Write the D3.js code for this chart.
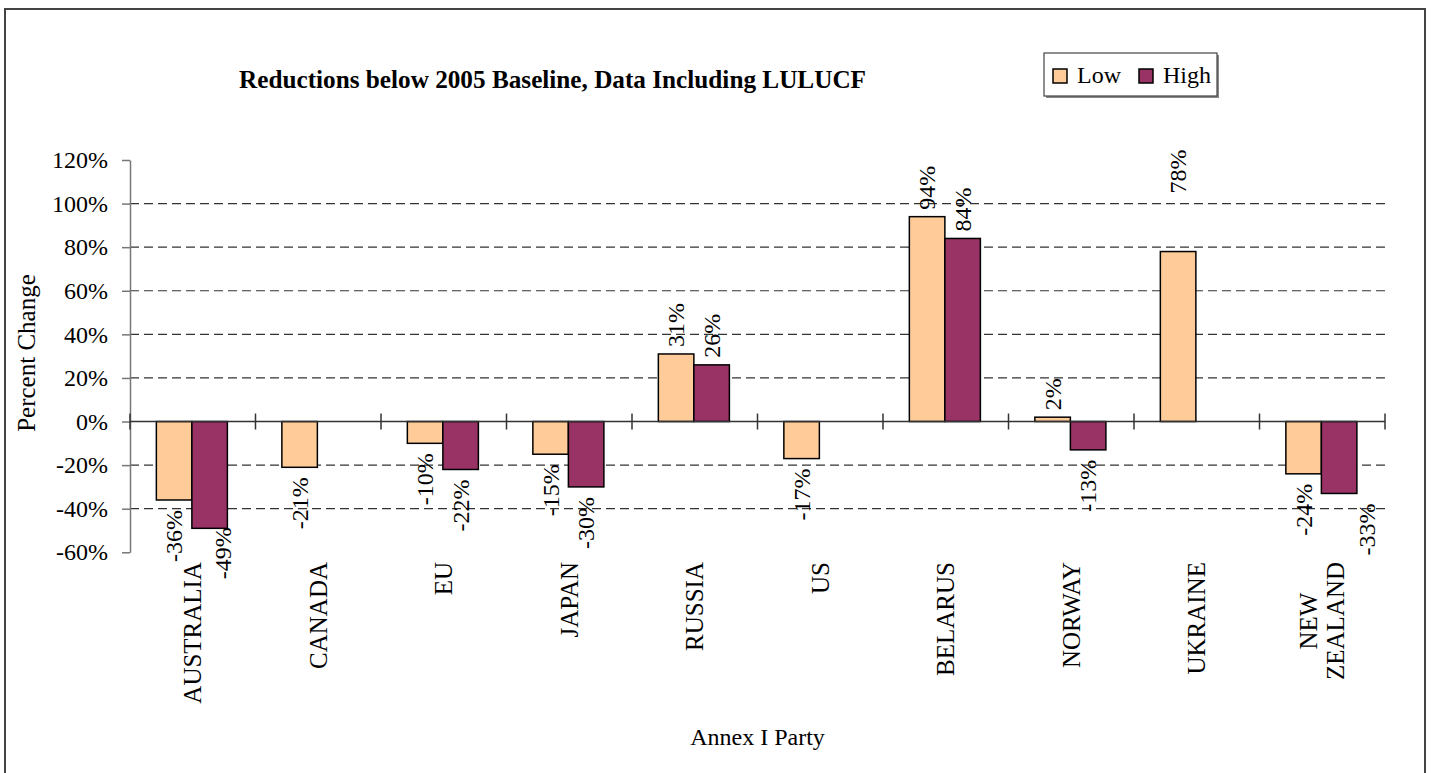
<!DOCTYPE html>
<html>
<head>
<meta charset="utf-8">
<script src="https://cdn.jsdelivr.net/npm/d3@7"></script>
<style>
  body { margin: 0; background: #fff; }
  svg text { font-family: "Liberation Serif", "Times New Roman", serif; fill: #000; }
</style>
</head>
<body>
<svg width="1432" height="773"></svg>
<script>
// chart values
var categories = ["AUSTRALIA", "CANADA", "EU", "JAPAN", "RUSSIA", "US", "BELARUS", "NORWAY", "UKRAINE", "NEW\nZEALAND"];
var lowValues = [-36, -21, -10, -15, 31, -17, 94, 2, 78, -24];
var highValues = [-49, null, -22, -30, 26, null, 84, -13, null, -33];
var seriesNames = ["Low", "High"];
var yTicks = [-60, -40, -20, 0, 20, 40, 60, 80, 100, 120];

// labels that were dragged by hand in the original (px)
var labelNudge = {
    "AUSTRALIA|High": [13, -11],
    "UKRAINE|Low": [0, -51],
    "NEW\nZEALAND|High": [28, 0]
};

var colors = { Low: "#FFCC99", High: "#993366" };
var serif = "'Liberation Serif', 'Times New Roman', serif";

var svg = d3.select("svg"),
    width = +svg.attr("width"),
    height = +svg.attr("height");

// outer frame
svg.append("rect")
    .attr("x", 5).attr("y", 9)
    .attr("width", 1420).attr("height", 800)
    .attr("fill", "none")
    .attr("stroke", "#444")
    .attr("stroke-width", 2);

var x = d3.scaleBand().domain(categories).range([130, 1385]);
var xs = d3.scaleBand().domain(seriesNames)
    .range([x.bandwidth() * 0.21, x.bandwidth() * 0.776]);
var y = d3.scaleLinear().domain([-60, 120]).range([552.3, 160]);

// gridlines
svg.append("g")
    .selectAll("line")
    .data(yTicks.filter(function (d) { return d !== 0 && d !== 120 && d !== -60; }))
    .enter().append("line")
    .attr("x1", 130).attr("x2", 1385)
    .attr("y1", function (d) { return y(d); })
    .attr("y2", function (d) { return y(d); })
    .attr("stroke", "#333")
    .attr("stroke-width", 1.2)
    .attr("stroke-dasharray", "9,5");

// y axis
var yAxis = svg.append("g")
    .attr("transform", "translate(130,0)")
    .call(d3.axisLeft(y).tickValues(yTicks)
        .tickFormat(function (d) { return d + "%"; })
        .tickSize(8).tickSizeOuter(0).tickPadding(14));
yAxis.attr("font-family", null).attr("font-size", null);
yAxis.select(".domain").attr("stroke", "#777").attr("stroke-width", 1.5);
yAxis.selectAll(".tick line").attr("stroke", "#777").attr("stroke-width", 1.5);
yAxis.selectAll(".tick text")
    .style("font-size", "24px")
    .style("font-family", serif);

// bars
var rows = categories.map(function (c, i) {
    return { cat: c, vals: [{ s: "Low", v: lowValues[i] }, { s: "High", v: highValues[i] }] };
});

var groups = svg.append("g")
    .selectAll("g")
    .data(rows)
    .enter().append("g")
    .attr("transform", function (d) { return "translate(" + x(d.cat) + ",0)"; });

groups.selectAll("rect")
    .data(function (d) { return d.vals.filter(function (e) { return e.v !== null; }); })
    .enter().append("rect")
    .attr("x", function (d) { return xs(d.s); })
    .attr("width", xs.bandwidth())
    .attr("y", function (d) { return Math.min(y(d.v), y(0)); })
    .attr("height", function (d) { return Math.abs(y(d.v) - y(0)); })
    .attr("fill", function (d) { return colors[d.s]; })
    .attr("stroke", "#000")
    .attr("stroke-width", 1.5);

// zero line and category ticks
svg.append("line")
    .attr("x1", 130).attr("x2", 1385)
    .attr("y1", y(0)).attr("y2", y(0))
    .attr("stroke", "#333").attr("stroke-width", 1.5);

var bounds = categories.map(function (c) { return x(c); }).concat([x.range()[1]]);
svg.append("g")
    .selectAll("line")
    .data(bounds)
    .enter().append("line")
    .attr("x1", function (d) { return d; })
    .attr("x2", function (d) { return d; })
    .attr("y1", y(0) - 8).attr("y2", y(0) + 8)
    .attr("stroke", "#333").attr("stroke-width", 1.5);

// data labels
groups.each(function (row) {
    var g = d3.select(this);
    row.vals.forEach(function (e) {
        if (e.v === null) return;
        var nudge = labelNudge[row.cat + "|" + e.s] || [0, 0];
        var cx = xs(e.s) + xs.bandwidth() / 2 + nudge[0];
        var cy = e.v >= 0 ? y(e.v) - 7 : y(e.v) + 10;
        cy += nudge[1];
        g.append("text")
            .attr("transform", "translate(" + cx + "," + cy + ") rotate(-90)")
            .attr("dy", "0.34em")
            .attr("text-anchor", e.v >= 0 ? "start" : "end")
            .style("font-family", serif)
            .style("font-size", "24px")
            .text(e.v + "%");
    });
});

// category labels
svg.append("g")
    .selectAll("text")
    .data(categories)
    .enter().append("text")
    .style("font-family", serif)
    .style("font-size", "25px")
    .attr("text-anchor", "middle")
    .each(function (c) {
        var t = d3.select(this);
        var lines = c.split("\n");
        var cx = x(c) + x.bandwidth() / 2;
        lines.forEach(function (ln, i) {
            t.append("tspan")
                .attr("x", 0)
                .attr("y", (i - (lines.length - 1) / 2) * 27)
                .attr("dy", "0.33em")
                .text(ln);
        });
        var len = d3.max(t.selectAll("tspan").nodes(), function (n) { return n.getComputedTextLength(); });
        t.attr("transform", "translate(" + cx + "," + (562 + len / 2) + ") rotate(-90)");
    });

// axis titles
svg.append("text")
    .attr("transform", "translate(35,353) rotate(-90)")
    .attr("text-anchor", "middle")
    .style("font-family", serif)
    .style("font-size", "25px")
    .text("Percent Change");

svg.append("text")
    .attr("x", 757.5).attr("y", 745)
    .attr("text-anchor", "middle")
    .style("font-family", serif)
    .style("font-size", "24px")
    .text("Annex I Party");

// title
svg.append("text")
    .attr("x", 239).attr("y", 88)
    .attr("textLength", 627)
    .attr("lengthAdjust", "spacingAndGlyphs")
    .style("font-family", serif)
    .style("font-size", "26px")
    .style("font-weight", "bold")
    .text("Reductions below 2005 Baseline, Data Including LULUCF");

// legend
var legend = svg.append("g").attr("transform", "translate(1044,53)");
legend.append("rect")
    .attr("x", 2).attr("y", 2)
    .attr("width", 173).attr("height", 43)
    .attr("fill", "#888");
legend.append("rect")
    .attr("width", 173).attr("height", 43)
    .attr("fill", "#fff")
    .attr("stroke", "#444").attr("stroke-width", 1.2);

var legendX = [9, 95];
seriesNames.forEach(function (s, i) {
    legend.append("rect")
        .attr("x", legendX[i]).attr("y", 16)
        .attr("width", 14).attr("height", 14)
        .attr("fill", colors[s])
        .attr("stroke", "#000").attr("stroke-width", 1.5);
    legend.append("text")
        .attr("x", legendX[i] + 24).attr("y", 30)
        .style("font-family", serif)
        .style("font-size", "24px")
        .text(s);
});
</script>
</body>
</html>
